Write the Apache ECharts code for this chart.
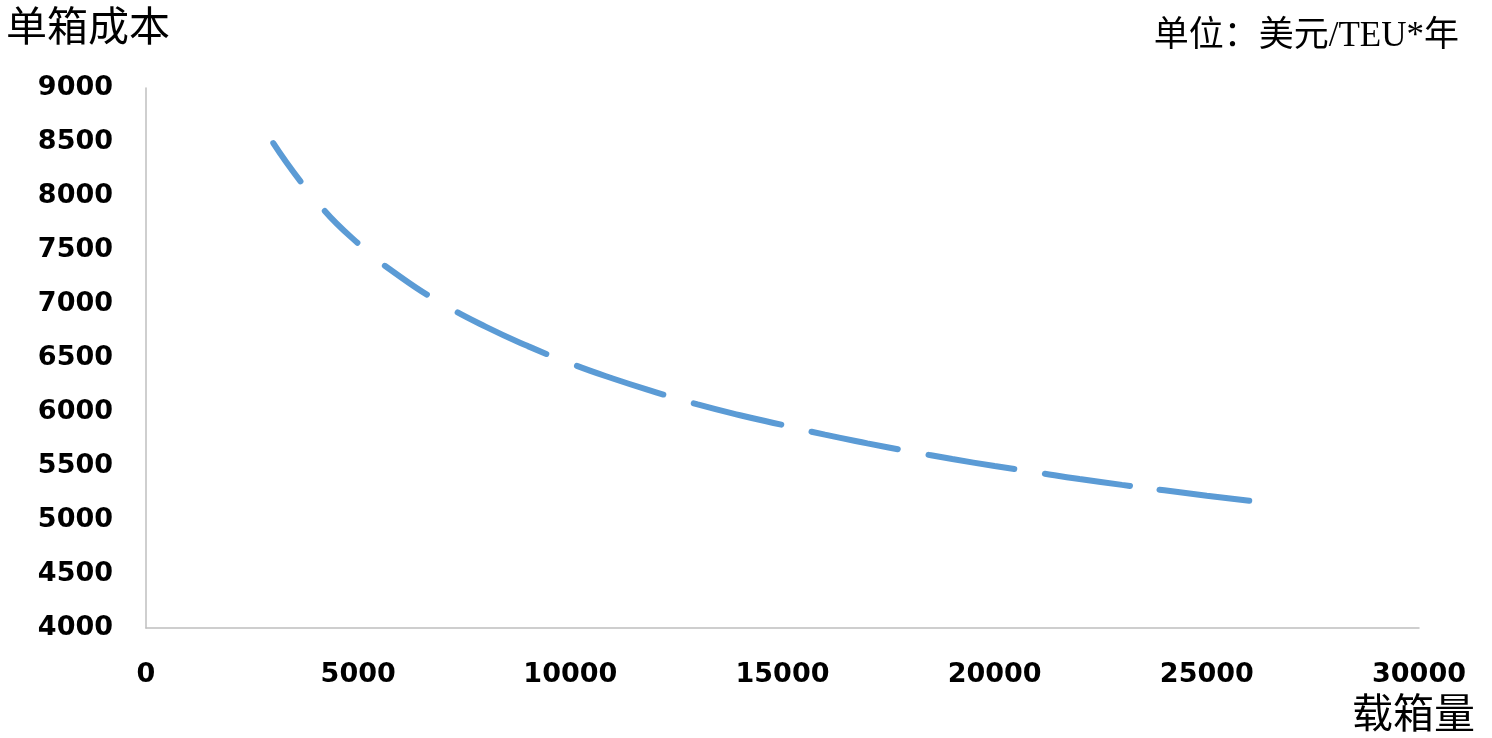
<!DOCTYPE html>
<html>
<head>
<meta charset="utf-8">
<script src="https://cdn.jsdelivr.net/npm/echarts@6/dist/echarts.min.js"></script>
<style>
html,body{margin:0;padding:0;background:#fff;}
#chart{width:1492px;height:738px;}
</style>
</head>
<body>
<div id="chart"></div>
<script>
// Data
const capacityTEU = [3000, 4000, 5000, 6000, 7000, 8000, 9000, 10000, 11000, 12000, 13000, 14000, 15000, 16000, 17000, 18000, 19000, 20000, 21000, 22000, 23000, 24000, 25000, 26000];
const unitCost = [8490, 7960, 7560, 7250, 7000, 6790, 6610, 6450, 6310, 6185, 6070, 5970, 5880, 5790, 5710, 5635, 5565, 5500, 5440, 5380, 5325, 5275, 5225, 5178];
const xTicks = [0, 5000, 10000, 15000, 20000, 25000, 30000];
const yTicks = [4000, 4500, 5000, 5500, 6000, 6500, 7000, 7500, 8000, 8500, 9000];
const yTitle = '单箱成本';
const xTitle = '载箱量';
const unitText = '单位：美元/TEU*年';

const chart = echarts.init(document.getElementById('chart'), null, {renderer: 'canvas'});
const points = capacityTEU.map((x, i) => [x, unitCost[i]]);
const plain = v => String(v);

const option = {
  backgroundColor: '#ffffff',
  animation: false,
  title: [
    {text: yTitle, left: 1, top: 0, textStyle: {fontFamily: 'Noto Sans CJK SC', fontSize: 41, fontWeight: 'normal', color: '#000'}},
    {text: unitText, right: 28, top: 14, textStyle: {fontFamily: "'Liberation Serif', 'Noto Sans CJK SC'", fontSize: 35, fontWeight: 'normal', color: '#000'}},
    {text: xTitle, right: 12, bottom: 0, textStyle: {fontFamily: 'Noto Sans CJK SC', fontSize: 41, fontWeight: 'normal', color: '#000'}}
  ],
  grid: {left: 146, right: 73, top: 88, bottom: 110, containLabel: false},
  xAxis: {
    type: 'value',
    min: xTicks[0],
    max: xTicks[xTicks.length - 1],
    interval: xTicks[1] - xTicks[0],
    axisLine: {show: true, lineStyle: {color: '#bfbfbf', width: 1.5}},
    axisTick: {show: false},
    splitLine: {show: false},
    axisLabel: {margin: 33, formatter: plain, fontFamily: 'DejaVu Sans', fontWeight: 'bold', fontSize: 27, color: '#000'}
  },
  yAxis: {
    type: 'value',
    min: yTicks[0],
    max: yTicks[yTicks.length - 1],
    interval: yTicks[1] - yTicks[0],
    axisLine: {show: true, lineStyle: {color: '#bfbfbf', width: 1.5}},
    axisTick: {show: false},
    splitLine: {show: false},
    axisLabel: {margin: 33, formatter: plain, fontFamily: 'DejaVu Sans', fontWeight: 'bold', fontSize: 27, color: '#000'}
  },
  series: [{
    type: 'line',
    data: points,
    smooth: true,
    showSymbol: false,
    symbol: 'none',
    lineStyle: {
      color: '#5b9bd5',
      width: 6,
      cap: 'round',
      type: [47, 38, 46, 36, 51, 35, 98, 33, 91, 32, 90, 31, 88, 31, 87, 31, 86, 30, 400, 30]
    }
  }]
};
chart.setOption(option);
</script>
</body>
</html>
